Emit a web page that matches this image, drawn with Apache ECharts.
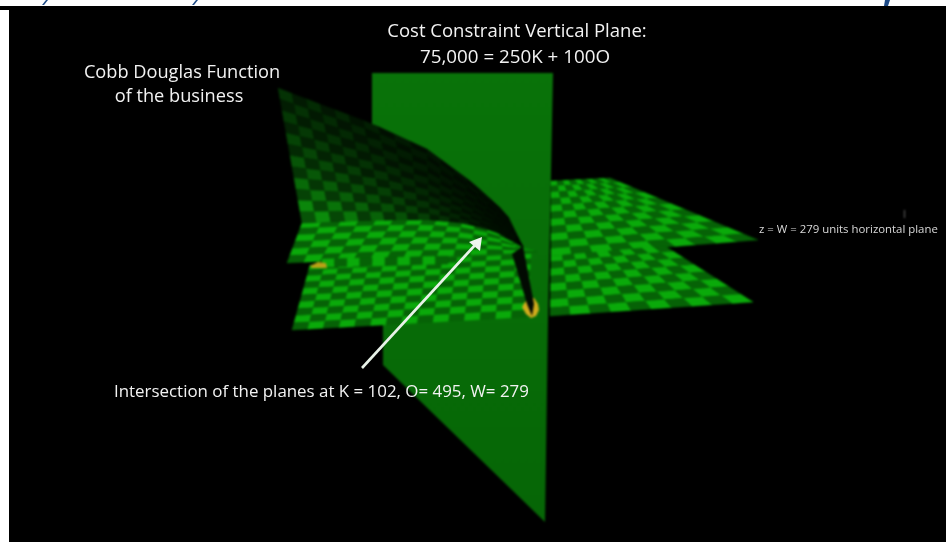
<!DOCTYPE html>
<html>
<head>
<meta charset="utf-8">
<style>
  html, body { margin: 0; padding: 0; background: #fff; }
  #wrap { position: relative; width: 946px; height: 542px; overflow: hidden; }
  #frame, #marks, #notes { position: absolute; left: 0; top: 0; width: 946px; height: 542px; }
  #marks { filter: blur(0.85px); }
</style>
<script src="https://cdn.jsdelivr.net/npm/echarts@6/dist/echarts.min.js"></script>
</head>
<body>
<div id="wrap">
  <div id="frame"></div>
  <div id="marks"></div>
  <div id="notes"></div>
</div>
<script>
var backdrop = [[0, 6], [946, 6], [946, 542], [9, 542], [9, 10], [0, 10]];
var verticalPlane = [[372, 73], [553, 73], [548, 317], [545, 522], [383, 365], [383, 327], [372, 250]];

// Cobb Douglas surface, upper and lower edge
var surfaceTop = [[278, 88], [325, 106], [373, 124], [427, 149], [473, 183], [507, 214], [523, 247]];
var surfaceBottom = [[302, 223], [350, 221], [393, 220], [430, 220], [462, 223], [494, 231], [523, 247]];
var surfaceTail = [[512, 254], [523, 246], [534, 304], [532, 316], [527, 304]];

// horizontal plane z = W, each piece runs from an upper edge to a lower edge
var leftUpperBottom = [[287, 263], [537, 252]];
var leftBandTop = [[322, 259], [448, 256]];
var leftBandBottom = [[322, 267], [448, 264]];
var leftLowerTop = [[310, 265], [531, 254]];
var leftLowerBottom = [[292, 330], [527, 317]];
var rightUpperTop = [[551, 181], [610, 178]];
var rightUpperBottom = [[551, 256], [758, 240]];
var rightLowerTop = [[551, 256], [665, 246]];
var rightLowerBottom = [[550, 316], [753, 302]];

var cone = [[525, 302], [530, 298], [534, 298], [538, 304], [539, 310], [536, 316], [531, 318], [526, 314], [522, 307]];
var farCone = [[310, 266], [318, 262], [326, 263], [327, 268], [312, 268]];
var arrowShaft = [[362, 368], [476, 244]];
var arrowHead = [[482, 237], [469, 242], [480, 251]];
var topMarks = [[[46, 0], [48, 0], [44, 5], [42, 5]], [[196, 0], [198, 0], [194, 5], [192, 5]], [[885, 0], [890, 0], [888, 6], [884, 6]]];
var tickMark = [[904, 210], [905, 210], [905, 218], [904, 218]];

var labelTexts = [
  'Cost Constraint Vertical Plane:',
  '75,000 = 250K + 100O',
  'Cobb Douglas Function',
  'of the business',
  'Intersection of the planes at K = 102, O= 495, W= 279',
  'z = W = 279 units horizontal plane'
];
var labelX = [517, 515, 182, 179, 114, 759];
var labelY = [32, 58, 73, 97, 392, 230];
var labelSize = [18.5, 18.8, 18.2, 18.2, 16.9, 11.4];
var labelAlign = ['center', 'center', 'center', 'center', 'left', 'left'];

var frameShapes = [[backdrop, '#000000']].concat(topMarks.map(function (m) { return [m, '#1d4a86']; }));
var planeShapes = [[verticalPlane, null]];
var checkerPieces = [
  [leftLowerTop, leftLowerBottom, 15, 10],
  [surfaceBottom, leftUpperBottom, 15, 6],
  [leftBandTop, leftBandBottom, 10, 1],
  [rightUpperTop, rightUpperBottom, 10, 11],
  [rightLowerTop, rightLowerBottom, 10, 8]
];
var frontShapes = [
  [farCone, '#b9a116'],
  [cone, '#d2ac1c'],
  [surfaceTail, '#020a02'],
  [tickMark, '#666666']
];
var noteShapes = [
  [arrowHead, '#eef5ee']
];

var surfaceCols = 20, surfaceRows = 12;

function cells(cols, rows, tag) {
  var out = [];
  for (var r = 0; r < rows; r++) {
    for (var c = 0; c < cols; c++) {
      out.push([c, r, tag]);
    }
  }
  return out;
}

function lerp(a, b, t) {
  return [a[0] + (b[0] - a[0]) * t, a[1] + (b[1] - a[1]) * t];
}

function edgePoint(edge, u) {
  var t = u * (edge.length - 1);
  var i = Math.min(Math.floor(t), edge.length - 2);
  return lerp(edge[i], edge[i + 1], t - i);
}

function meshPoint(top, bottom, u, v) {
  return lerp(edgePoint(top, u), edgePoint(bottom, u), v);
}

function rgb(g) {
  var s = Math.round(g * 0.08);
  return 'rgb(' + s + ',' + Math.round(g) + ',' + s + ')';
}

function polygon(api, pts, style) {
  return {
    type: 'polygon',
    shape: { points: pts.map(function (p) { return api.coord(p); }) },
    style: style
  };
}

function renderShape(list) {
  return function (params, api) {
    var item = list[params.dataIndex];
    var fill = item[1];
    if (!fill) {
      fill = new echarts.graphic.LinearGradient(0, 0, 0, 1, [
        { offset: 0, color: '#097309' },
        { offset: 1, color: '#066606' }
      ]);
    }
    return polygon(api, item[0], { fill: fill });
  };
}

function renderPiece(params, api) {
  var piece = checkerPieces[api.value(2)];
  var cols = piece[2], rows = piece[3];
  var c = api.value(0), r = api.value(1);
  var u0 = c / cols, u1 = (c + 1) / cols;
  var v0 = Math.pow(r / rows, 1.12), v1 = Math.pow((r + 1) / rows, 1.12);
  var pts = [
    meshPoint(piece[0], piece[1], u0, v0),
    meshPoint(piece[0], piece[1], u1, v0),
    meshPoint(piece[0], piece[1], u1, v1),
    meshPoint(piece[0], piece[1], u0, v1)
  ];
  var fill = (c + r) % 2 === 0 ? '#0aaa0a' : '#066206';
  return polygon(api, pts, { fill: fill, stroke: fill, lineWidth: 0.4 });
}

function renderSurface(params, api) {
  var c = api.value(0), r = api.value(1);
  var u0 = c / surfaceCols, u1 = (c + 1) / surfaceCols;
  var v0 = r / surfaceRows, v1 = (r + 1) / surfaceRows;
  var pts = [
    meshPoint(surfaceTop, surfaceBottom, u0, v0),
    meshPoint(surfaceTop, surfaceBottom, u1, v0),
    meshPoint(surfaceTop, surfaceBottom, u1, v1),
    meshPoint(surfaceTop, surfaceBottom, u0, v1)
  ];
  var fade = Math.pow(1 - (u0 + u1) / 2, 1.5);
  var g = 5 + (46 + 105 * v1 * v1) * fade;
  var fill = rgb((c + r) % 2 === 0 ? g : g * 0.55);
  return polygon(api, pts, { fill: fill, stroke: fill, lineWidth: 0.4 });
}

function shapeSeries(list) {
  return {
    type: 'custom',
    silent: true,
    clip: false,
    animation: false,
    renderItem: renderShape(list),
    data: list.map(function (d, i) { return [i]; })
  };
}

var grid = { left: 0, right: 0, top: 0, bottom: 0 };
var xAxis = { type: 'value', min: 0, max: 946, show: false };
var yAxis = { type: 'value', min: 0, max: 542, inverse: true, show: false };

var pieceCells = [];
checkerPieces.forEach(function (p, i) {
  pieceCells = pieceCells.concat(cells(p[2], p[3], i));
});

var frameChart = echarts.init(document.getElementById('frame'));
frameChart.setOption({
  animation: false,
  backgroundColor: '#ffffff',
  grid: grid,
  xAxis: xAxis,
  yAxis: yAxis,
  series: [shapeSeries(frameShapes)]
});

// the 3d render sits in its own blurred layer, like the video frame it came from
var marksChart = echarts.init(document.getElementById('marks'));
marksChart.setOption({
  animation: false,
  backgroundColor: 'transparent',
  grid: grid,
  xAxis: xAxis,
  yAxis: yAxis,
  series: [
    shapeSeries(planeShapes),
    {
      type: 'custom', silent: true, clip: false, animation: false,
      renderItem: renderPiece,
      data: pieceCells
    },
    {
      type: 'custom', silent: true, clip: false, animation: false,
      renderItem: renderSurface,
      data: cells(surfaceCols, surfaceRows, 0)
    },
    shapeSeries(frontShapes)
  ]
});

var notesChart = echarts.init(document.getElementById('notes'));
notesChart.setOption({
  animation: false,
  backgroundColor: 'transparent',
  grid: grid,
  xAxis: xAxis,
  yAxis: yAxis,
  series: [
    {
      type: 'line', silent: true, animation: false, symbol: 'none',
      lineStyle: { color: '#e8f2e8', width: 2.6 },
      data: arrowShaft
    },
    shapeSeries(noteShapes),
    {
      type: 'custom', silent: true, clip: false, animation: false,
      renderItem: function (params, api) {
        var i = params.dataIndex;
        var p = api.coord([labelX[i], labelY[i]]);
        return {
          type: 'text',
          x: p[0],
          y: p[1],
          style: {
            text: labelTexts[i],
            fill: labelSize[i] < 12 ? '#d8d8d8' : '#f2f2f2',
            font: labelSize[i] + 'px "Open Sans", "Noto Sans", sans-serif',
            align: labelAlign[i],
            verticalAlign: 'middle'
          }
        };
      },
      data: labelTexts.map(function (d, i) { return [i]; })
    }
  ]
});
</script>
</body>
</html>
